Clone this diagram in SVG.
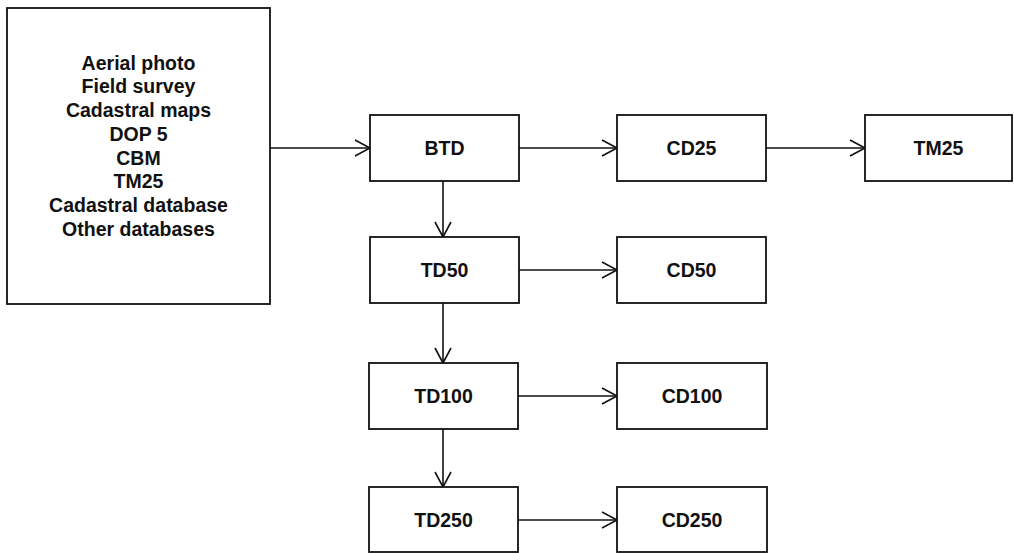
<svg xmlns="http://www.w3.org/2000/svg" width="1014" height="553" viewBox="0 0 1014 553">
<style>
.box{fill:#fff;stroke:#111;stroke-width:1.8}
.t{font-family:"Liberation Sans",Arial,Helvetica,sans-serif;font-weight:bold;font-size:19.5px;fill:#111;text-anchor:middle}
.c{stroke:#111;stroke-width:1.6;fill:none;marker-end:url(#ah)}
</style>
<defs>
<marker id="ah" markerUnits="userSpaceOnUse" markerWidth="18" markerHeight="18" refX="15" refY="8" orient="auto" overflow="visible">
<path d="M0,0 L15,8 L0,16" fill="none" stroke="#111" stroke-width="1.6"/>
</marker>
</defs>
<rect width="1014" height="553" fill="#fff"/>
<g id="connectors">
<line class="c" x1="270" y1="148" x2="370" y2="148"/>
<line class="c" x1="519" y1="148" x2="617" y2="148"/>
<line class="c" x1="766" y1="148" x2="865" y2="148"/>
<line class="c" x1="443" y1="181" x2="443" y2="237"/>
<line class="c" x1="519" y1="270" x2="617" y2="270"/>
<line class="c" x1="443" y1="303" x2="443" y2="363"/>
<line class="c" x1="518" y1="396" x2="617" y2="396"/>
<line class="c" x1="443" y1="429" x2="443" y2="487"/>
<line class="c" x1="518" y1="520" x2="617" y2="520"/>
</g>
<g id="sources">
<rect class="box" x="7" y="8" width="263" height="296"/>
<text class="t" x="138.5" y="69.5">Aerial photo</text>
<text class="t" x="138.5" y="93.25">Field survey</text>
<text class="t" x="138.5" y="117">Cadastral maps</text>
<text class="t" x="138.5" y="140.75">DOP 5</text>
<text class="t" x="138.5" y="164.5">CBM</text>
<text class="t" x="138.5" y="188.25">TM25</text>
<text class="t" x="138.5" y="212">Cadastral database</text>
<text class="t" x="138.5" y="235.75">Other databases</text>
</g>
<g id="btd"><rect class="box" x="370" y="115" width="149" height="66"/><text class="t" x="444.5" y="155">BTD</text></g>
<g id="cd25"><rect class="box" x="617" y="115" width="149" height="66"/><text class="t" x="691.5" y="155">CD25</text></g>
<g id="tm25"><rect class="box" x="865" y="115" width="147" height="66"/><text class="t" x="938.5" y="155">TM25</text></g>
<g id="td50"><rect class="box" x="370" y="237" width="149" height="66"/><text class="t" x="444.5" y="277">TD50</text></g>
<g id="cd50"><rect class="box" x="617" y="237" width="149" height="66"/><text class="t" x="691.5" y="277">CD50</text></g>
<g id="td100"><rect class="box" x="369" y="363" width="149" height="66"/><text class="t" x="443.5" y="403">TD100</text></g>
<g id="cd100"><rect class="box" x="617" y="363" width="150" height="66"/><text class="t" x="692" y="403">CD100</text></g>
<g id="td250"><rect class="box" x="369" y="487" width="149" height="65"/><text class="t" x="443.5" y="527">TD250</text></g>
<g id="cd250"><rect class="box" x="617" y="487" width="150" height="65"/><text class="t" x="692" y="527">CD250</text></g>
</svg>
